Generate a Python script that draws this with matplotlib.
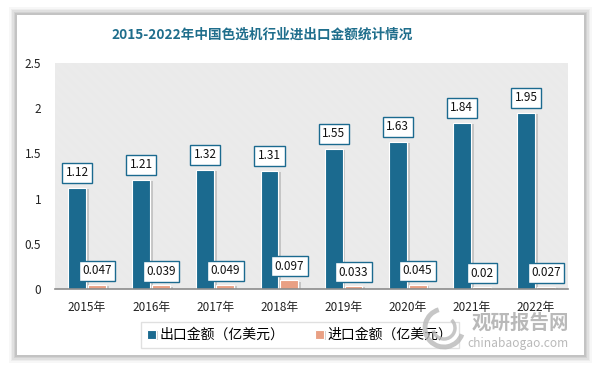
import matplotlib
matplotlib.use("Agg")
import matplotlib.pyplot as plt
import matplotlib.patheffects as pe
from matplotlib.patches import Rectangle, Arc
import numpy as np

plt.rcParams['font.family'] = ['Noto Sans CJK SC', 'DejaVu Sans']
plt.rcParams['hatch.linewidth'] = 0.45

# data
years = ['2015年', '2016年', '2017年', '2018年', '2019年', '2020年', '2021年', '2022年']
export_vals = [1.12, 1.21, 1.32, 1.31, 1.55, 1.63, 1.84, 1.95]
import_vals = [0.047, 0.039, 0.049, 0.097, 0.033, 0.045, 0.02, 0.027]
export_name = '出口金额（亿美元）'
import_name = '进口金额（亿美元）'
title = '2015-2022年中国色选机行业进出口金额统计情况'

blue = '#1b6a8f'
salmon = '#e9a084'

fig = plt.figure(figsize=(6, 3.69), dpi=100)
W, H = 600, 369

# card shadow + card
for i, a in enumerate([0.03, 0.04, 0.05, 0.06, 0.07]):
    g = 8 - i * 1.6
    fig.patches.append(Rectangle(((17 - g) / W, (H - 355 - g) / H), (567 + 2 * g) / W, (340 + 2 * g) / H,
                                 transform=fig.transFigure, facecolor='black', alpha=a, lw=0, zorder=0))
fig.patches.append(Rectangle((17 / W, (H - 355) / H), 567 / W, 340 / H,
                             transform=fig.transFigure, facecolor='white', lw=0, zorder=1))

ax = fig.add_axes([55 / W, (H - 289) / H, 513 / W, 226 / H])
ax.set_zorder(3)
ax.set_facecolor('none')
ax.add_patch(Rectangle((0, 0), 1, 1, transform=ax.transAxes, facecolor='white',
                       edgecolor='#e6e6e6', hatch='\\' * 30, lw=0, zorder=0))

x = np.arange(len(years))
w = 0.28
shadow = [pe.SimplePatchShadow(offset=(2, -1), shadow_rgbFace='#808080', alpha=0.35), pe.Normal()]
b1 = ax.bar(x - 0.155, export_vals, w, color=blue, edgecolor='white', linewidth=0.8,
            label=export_name, zorder=3)
b2 = ax.bar(x + 0.155, import_vals, w, color=salmon, edgecolor='white', linewidth=0.8,
            label=import_name, zorder=3)
for b in list(b1) + list(b2):
    b.set_path_effects(shadow)

box = dict(boxstyle='square,pad=0.3', facecolor='white', edgecolor=blue, linewidth=1.0)
for xi, v in zip(x, export_vals):
    ax.annotate(f'{v:g}', (xi - 0.155, v), xytext=(0, 15), textcoords='offset pixels',
                ha='center', va='center', fontsize=8.5, color='#111111', bbox=box, zorder=5)
for xi, v in zip(x, import_vals):
    ax.annotate(f'{v:g}', (xi + 0.155, v), xytext=(0, 14), textcoords='offset pixels',
                ha='center', va='center', fontsize=8.5, color='#111111', bbox=box, zorder=5)

ax.set_xlim(-0.5, len(years) - 0.5)
ax.set_ylim(0, 2.5)
ax.set_yticks([0, 0.5, 1, 1.5, 2, 2.5])
ax.set_yticklabels(['0', '0.5', '1', '1.5', '2', '2.5'])
ax.set_xticks(x)
ax.set_xticklabels(years)
ax.tick_params(axis='both', length=0, labelsize=8.5, labelcolor='#222222')
ax.tick_params(axis='x', pad=9)
ax.tick_params(axis='y', pad=10)
for s in ['top', 'right', 'left']:
    ax.spines[s].set_visible(False)
ax.spines['bottom'].set_color('#8c8c8c')
ax.spines['bottom'].set_linewidth(1.2)
ax.spines['bottom'].set_zorder(4)

fig.text(262 / W, 1 - 35 / H, title, ha='center', va='center', fontsize=9.8,
         fontweight='bold', color='#1f6e8c', zorder=5)

leg = fig.legend(handles=[b1, b2], loc='center', bbox_to_anchor=(300 / W, 1 - 335 / H),
                 ncol=2, fontsize=10, frameon=True, fancybox=False, edgecolor='#d9d9d9',
                 handlelength=0.6, handleheight=0.6, handletextpad=0.3, columnspacing=2.2,
                 borderpad=0.45, borderaxespad=0)
leg.get_frame().set_linewidth(1.0)
leg.set_zorder(6)

# watermark
for r, t1, t2, lw in [(19, 100, 330, 3.5), (11, 200, 60, 2.5)]:
    fig.patches.append(Arc((444 / W, 1 - 328 / H), 2 * r / W, 2 * r / H, theta1=t1, theta2=t2,
                           transform=fig.transFigure, color='#b8b8b8', lw=lw, alpha=0.8, zorder=7))
fig.text(520 / W, 1 - 323.5 / H, '观研报告网', ha='center', va='center', fontsize=14,
         fontweight='bold', color='#a8a8a8', alpha=0.8, zorder=7)
fig.text(518 / W, 1 - 344 / H, 'chinabaogao.com', ha='center', va='center', fontsize=8.6,
         color='#a8a8a8', alpha=0.8, zorder=7)

fig.savefig('out.png', dpi=100)
